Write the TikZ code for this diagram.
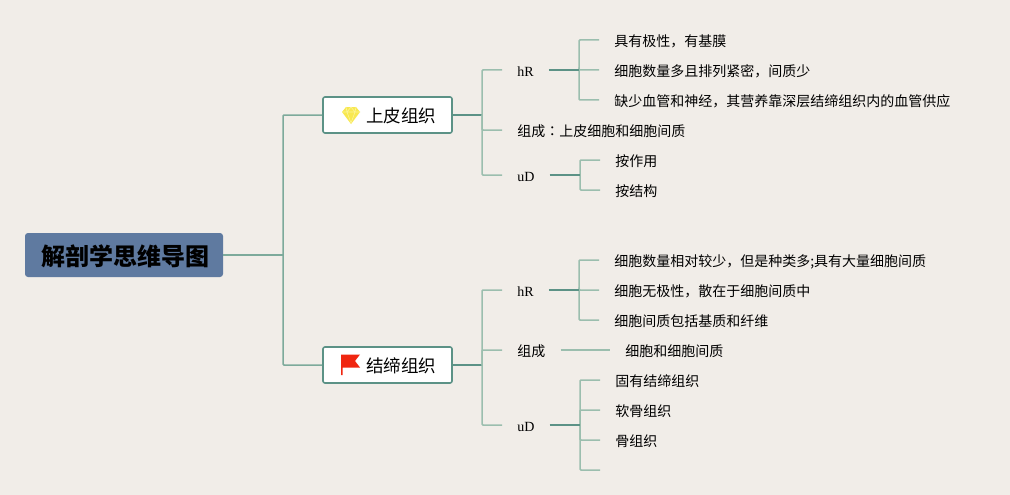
\documentclass[tikz,border=0pt]{standalone}
\usepackage{fontspec}
\setmainfont{Liberation Serif}
\newfontfamily\cjk{Noto Sans CJK SC}
\newfontfamily\cjktc{Noto Sans CJK TC}
\definecolor{page_bg}{RGB}{241,237,232}
\definecolor{node_blue}{RGB}{95,122,160}
\definecolor{edge_dark}{RGB}{92,146,134}
\definecolor{edge_mid}{RGB}{125,170,155}
\definecolor{edge_light}{RGB}{155,190,174}
\definecolor{icon_yellow}{RGB}{248,232,80}
\definecolor{icon_pale}{RGB}{252,244,150}
\definecolor{icon_red}{RGB}{240,38,16}

\begin{document}
\begin{tikzpicture}[x=1pt,y=-1pt,semithick]
    \tikzstyle{root}=[fill=node_blue, rounded corners=3, minimum width=198, minimum height=44, text=black, font=\cjk\bfseries\fontsize{24}{24}\selectfont, text height=21, text depth=1]
    \tikzstyle{topic}=[draw=edge_dark, line width=1.6, fill=white, rounded corners=2, minimum width=129, minimum height=36, font=\cjk\fontsize{17.5}{18}\selectfont, text height=15, text depth=0]
    \tikzstyle{leaf}=[anchor=west, inner xsep=15, inner ysep=0, font=\cjk\fontsize{14}{14}\selectfont, text height=13, text depth=0]
    \tikzstyle{sub}=[style=leaf, font=\fontsize{14}{14}\selectfont]
    \tikzstyle{trunk}=[draw=edge_dark, line width=1.6]
    \tikzstyle{branch}=[draw=edge_light, line width=1.5, rounded corners=1, to path={|- (\tikztotarget)}]

    \fill[page_bg] (0,0) rectangle (1010,495);
    \useasboundingbox (0,0) rectangle (1010,495);

    \node[root] (root) at (124,255) {\hspace*{2pt}解剖学思维导图};
    \node[topic] (epi)  at (387.5,115) {\hspace*{27pt}上皮组织};
    \node[topic] (conn) at (387.5,365) {\hspace*{27pt}结缔组织};

    % upper half
    \node[sub]  (epi_hr)  at (502,70)  {hR};
    \node[leaf] (epi_mix) at (502,130) {组成{\cjktc ：}上皮细胞和细胞间质};
    \node[sub]  (epi_ud)  at (502,175) {uD};
    \node[leaf] (epi_a) at (599,40)  {具有极性，有基膜};
    \node[leaf] (epi_b) at (599,70)  {细胞数量多且排列紧密，间质少};
    \node[leaf] (epi_c) at (599,100) {缺少血管和神经，其营养靠深层结缔组织内的血管供应};
    \node[leaf] (epi_d) at (600,160) {按作用};
    \node[leaf] (epi_e) at (600,190) {按结构};

    % lower half
    \node[sub]  (conn_hr)  at (502,290) {hR};
    \node[leaf] (conn_mix) at (502,350) {组成};
    \node[sub]  (conn_ud)  at (502,425) {uD};
    \node[leaf] (conn_a) at (599,260) {细胞数量相对较少，但是种类多;具有大量细胞间质};
    \node[leaf] (conn_b) at (599,290) {细胞无极性，散在于细胞间质中};
    \node[leaf] (conn_c) at (599,320) {细胞间质包括基质和纤维};
    \node[leaf] (conn_m) at (610,350) {细胞和细胞间质};
    \node[leaf] (conn_d) at (600,380) {固有结缔组织};
    \node[leaf] (conn_e) at (600,410) {软骨组织};
    \node[leaf] (conn_f) at (600,440) {骨组织};

    \coordinate (j_root) at (283,255);
    \coordinate (j_epi)  at (482,115);
    \coordinate (j_conn) at (482,365);
    \coordinate (j_ehr)  at (579,70);
    \coordinate (j_eud)  at (580,175);
    \coordinate (j_chr)  at (579,290);
    \coordinate (j_cud)  at (580,425);
    \coordinate (conn_g) at (600,470);

    \path
     (root.east) edge[draw=edge_mid,line width=1.6] (j_root)
     (j_root) edge[branch,draw=edge_mid] (epi.west)
     (j_root) edge[branch,draw=edge_mid] (conn.west)
     (epi.east) edge[trunk] (j_epi)
     (conn.east) edge[trunk] (j_conn)
     (j_epi) edge[branch] (epi_hr.west)
     (j_epi) edge[branch] (epi_mix.west)
     (j_epi) edge[branch] (epi_ud.west)
     (j_conn) edge[branch] (conn_hr.west)
     (j_conn) edge[branch] (conn_mix.west)
     (j_conn) edge[branch] (conn_ud.west)
     (j_ehr) edge[branch] (epi_a.west)
     (j_ehr) edge[branch] (epi_b.west)
     (j_ehr) edge[branch] (epi_c.west)
     (j_eud) edge[branch] (epi_d.west)
     (j_eud) edge[branch] (epi_e.west)
     (j_chr) edge[branch] (conn_a.west)
     (j_chr) edge[branch] (conn_b.west)
     (j_chr) edge[branch] (conn_c.west)
     (j_cud) edge[branch] (conn_d.west)
     (j_cud) edge[branch] (conn_e.west)
     (j_cud) edge[branch] (conn_f.west)
     (j_cud) edge[branch] (conn_g)
     (conn_mix.east) edge[draw=edge_light,line width=1.5] (conn_m.west)
     (epi_hr.east) edge[trunk] (j_ehr)
     (epi_ud.east) edge[trunk] (j_eud)
     (conn_hr.east) edge[trunk] (j_chr)
     (conn_ud.east) edge[trunk] (j_cud)
     ;

    % icons
    \fill[icon_yellow] (346,107) -- (356,107) -- (360,112) -- (351,124) -- (342,112) -- cycle;
    \draw[icon_pale,line width=0.6] (342,112) -- (360,112) (347,112) -- (351,123) -- (355,112) (346,107) -- (347,112) -- (351,107) -- (355,112) -- (356,107);
    \fill[icon_red] (341,354.5) -- (360,354.5) -- (355,361) -- (360,367.5) -- (342.5,367.5) -- (342.5,375) -- (341,375) -- cycle;
\end{tikzpicture}
\end{document}
